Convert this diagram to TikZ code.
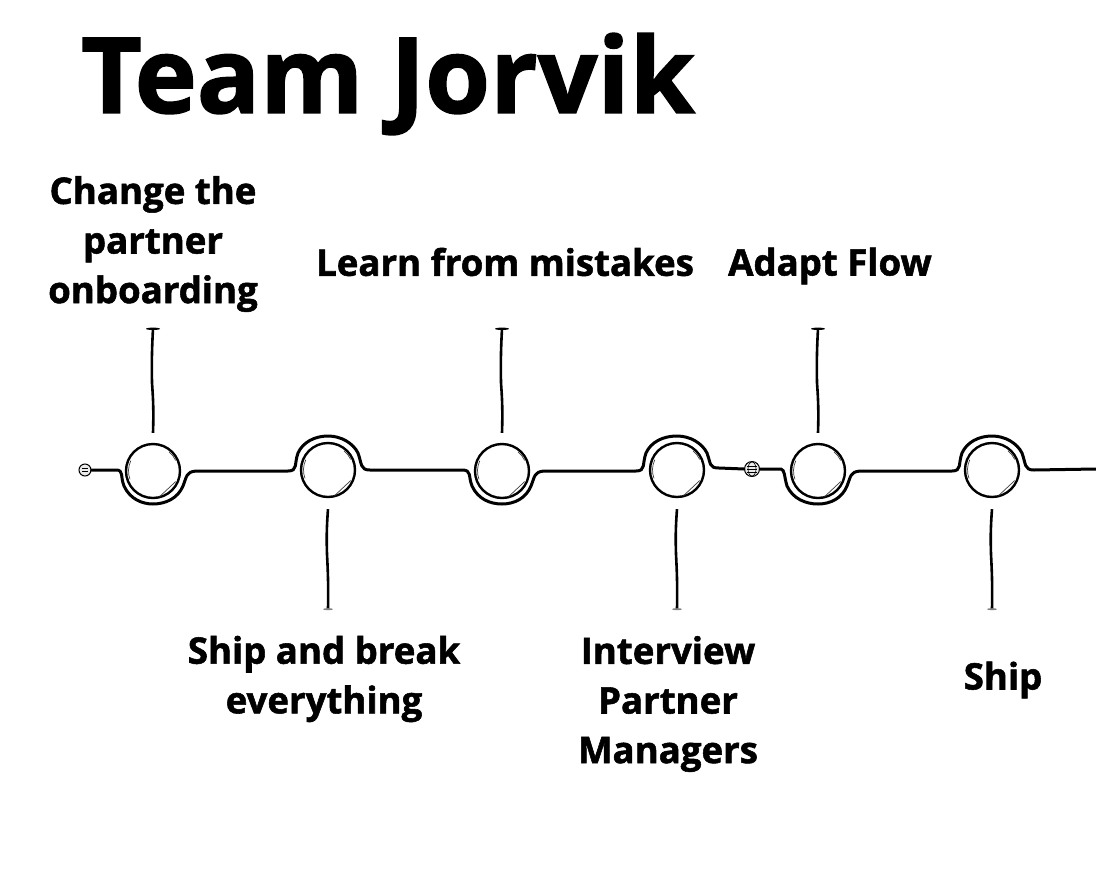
\documentclass[tikz,border=0pt]{standalone}
\usepackage{fontspec}
\setmainfont{Open Sans}[BoldFeatures={FakeBold=1.5}]
\tikzset{
    x=1pt, y=-1pt,
    label/.style={font=\bfseries\fontsize{36.6}{49.6}\selectfont, align=center, inner sep=0pt},
    stop/.style={circle, draw, line width=2.4pt, minimum size=54pt, inner sep=0pt},
    wire/.style={line width=3pt, line cap=round},
    stem/.style={line width=2.6pt, line cap=butt},
    sketch/.style={line width=0.7pt, black!75},
    knob/.style={circle, draw, line width=1pt, fill=black!8, inner sep=0pt}
}
\begin{document}
\begin{tikzpicture}
    \useasboundingbox (0,0) rectangle (1096,884);

    \node[font=\bfseries\fontsize{105}{120}\selectfont, inner sep=0pt] (title) at (388,84) {Team Jorvik};

    % Stops along the line
    \node[stop] (s1) at (153,471) {};
    \node[stop] (s2) at (328,470) {};
    \node[stop] (s3) at (502,471) {};
    \node[stop] (s4) at (677,470) {};
    \node[stop] (s5) at (818,471) {};
    \node[stop] (s6) at (992,470) {};

    % Line ends
    \node[knob, minimum size=12pt] (k1) at (85,470) {};
    \node[knob, minimum size=15pt] (k2) at (752,469) {};
    \coordinate (end) at (1096,469);

    % Labels
    \node[label] (l1) at (153,244) {Change the\\partner\\onboarding};
    \node[label] (l2) at (324,679) {Ship and break\\everything};
    \node[label] (l3) at (505,262) {Learn from mistakes};
    \node[label] (l4) at (668,704) {Interview\\Partner\\Managers};
    \node[label] (l5) at (830,266) {Adapt Flow};
    \node[label] (l6) at (1003,680) {Ship};

    % Stems
    \foreach \s in {s1,s3,s5} {
        \draw[stem] (\s.north) ++(0,-10) to[bend right=3] ++(-1,-50) to[bend left=2] ++(1,-54) coordinate (t\s);
        \fill (t\s) ellipse (7 and 1.2);
    }
    \foreach \s in {s2,s4,s6} {
        \draw[stem] (\s.south) ++(0,11) to[bend right=3] ++(-1,45) to[bend left=2] ++(1,55) coordinate (t\s);
        \fill[black!50] (t\s) ellipse (5 and 1);
    }

    % Sketch marks inside the stops
    \foreach \s in {s1,s2,s3,s4,s5,s6} {
        \draw[sketch] (\s.center) ++(-50:25) arc (-50:-25:25);
        \draw[sketch] (\s.center) ++(25:25) -- ++(-16,15);
        \draw[sketch] (\s.center) ++(160:24.5) arc (160:205:24.5);
    }

    % Line
    \draw[wire] (k1.east) -- (116,470)
        .. controls (124,470) and (120,476) .. (124,486)
        .. controls (130,499) and (142,504) .. (153,504)
        .. controls (166,504) and (178,498) .. (183,486)
        .. controls (187,476) and (186,472) .. (196,471)
        -- (288,471)
        .. controls (298,471) and (294,464) .. (298,453)
        .. controls (303,442) and (315,436) .. (328,436)
        .. controls (341,436) and (353,443) .. (358,453)
        .. controls (362,464) and (360,470) .. (370,470)
        -- (462,470)
        .. controls (472,470) and (468,476) .. (472,486)
        .. controls (478,499) and (490,504) .. (502,504)
        .. controls (515,504) and (526,498) .. (531,486)
        .. controls (535,476) and (534,472) .. (544,471)
        -- (636,471)
        .. controls (646,471) and (642,464) .. (646,453)
        .. controls (651,442) and (663,436) .. (677,436)
        .. controls (690,436) and (702,443) .. (707,453)
        .. controls (711,464) and (709,468) .. (719,468)
        -- (k2.west);
    \draw[wire] (k2.east) -- (781,469)
        .. controls (785,470) and (784,476) .. (787,486)
        .. controls (793,499) and (806,504) .. (818,504)
        .. controls (831,504) and (842,498) .. (847,486)
        .. controls (851,476) and (850,472) .. (860,471)
        -- (952,471)
        .. controls (962,471) and (958,464) .. (962,453)
        .. controls (967,442) and (979,436) .. (992,436)
        .. controls (1005,436) and (1017,443) .. (1022,453)
        .. controls (1026,464) and (1024,470) .. (1034,470)
        -- (end);

    % Knob markings
    \draw[line width=0.6pt] (k1.center) ++(-3,-1.5) -- ++(6,0) ++(-6,3) -- ++(6,0);
    \foreach \dy in {-3,0,3}
        \draw[line width=0.6pt] (k2.center) ++(-5,\dy) -- ++(10,0);
    \draw[line width=0.6pt] (k2.center) ellipse (4 and 7);
\end{tikzpicture}
\end{document}
